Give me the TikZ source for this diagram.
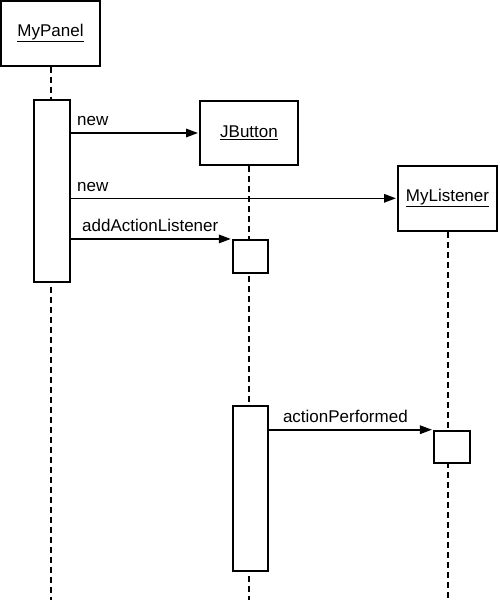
\documentclass[tikz,border=0pt]{standalone}
\usepackage{fontspec}
\setmainfont{Liberation Sans}
\usetikzlibrary{arrows.meta,calc}
\begin{document}
\begin{tikzpicture}[x=1pt,y=-1pt,
  obj/.style={draw,line width=2pt,fill=white,inner sep=0pt,minimum width=99pt,minimum height=65pt,font=\fontsize{17}{20}\selectfont},
  act/.style={draw,line width=2pt,fill=white,inner sep=0pt,minimum width=36pt},
  life/.style={line width=2pt,dash pattern=on 6pt off 4pt},
  msg/.style={line width=1.6pt,shorten >=1pt,-{Triangle[length=12pt,width=8.5pt]}},
  lbl/.style={font=\fontsize{17}{20}\selectfont,inner sep=0pt,anchor=base west}]
\useasboundingbox (0,0) rectangle (500,600);
\coordinate (bottom) at (0,600);
% objects
\node[obj] (panel) at (50.5,33) {\underline{MyPanel}};
\node[obj,minimum width=98pt,minimum height=64pt] (button) at (249,133) {\underline{JButton}};
\node[obj] (listener) at (447.5,198.3) {\underline{MyListener}};
% lifelines
\draw[life] (panel.south) -- (panel.south |- bottom);
\draw[life] (button.south) -- (button.south |- bottom);
\draw[life] (listener.south) -- (listener.south |- bottom);
% activations
\node[act,minimum height=182pt] (pa) at (52,191) {};
\node[act,minimum width=35pt,minimum height=32.7pt] (ba1) at (250.3,256.3) {};
\node[act,minimum width=35pt,minimum height=165.3pt] (ba2) at (250.3,488.3) {};
\node[act,minimum width=35.7pt,minimum height=32.6pt] (la) at (451.8,447) {};
% messages
\draw[msg] (pa.east |- button.west) -- (button.west);
\node[lbl] (l1) at ($(pa.east |- button.west)+(6,-8)$) {new};
\draw[msg] (pa.east |- listener.west) -- (listener.west);
\node[lbl] (l2) at ($(pa.east |- listener.west)+(6,-7)$) {new};
\draw[msg] (pa.east |- ba1.north west) -- (ba1.north west);
\node[lbl] (l3) at ($(pa.east |- ba1.north west)+(11,-7)$) {addActionListener};
\draw[msg] (ba2.east |- la.north west) -- (la.north west);
\node[lbl] (l4) at ($(ba2.east |- la.north west)+(14,-7.5)$) {actionPerformed};
\end{tikzpicture}
\end{document}
